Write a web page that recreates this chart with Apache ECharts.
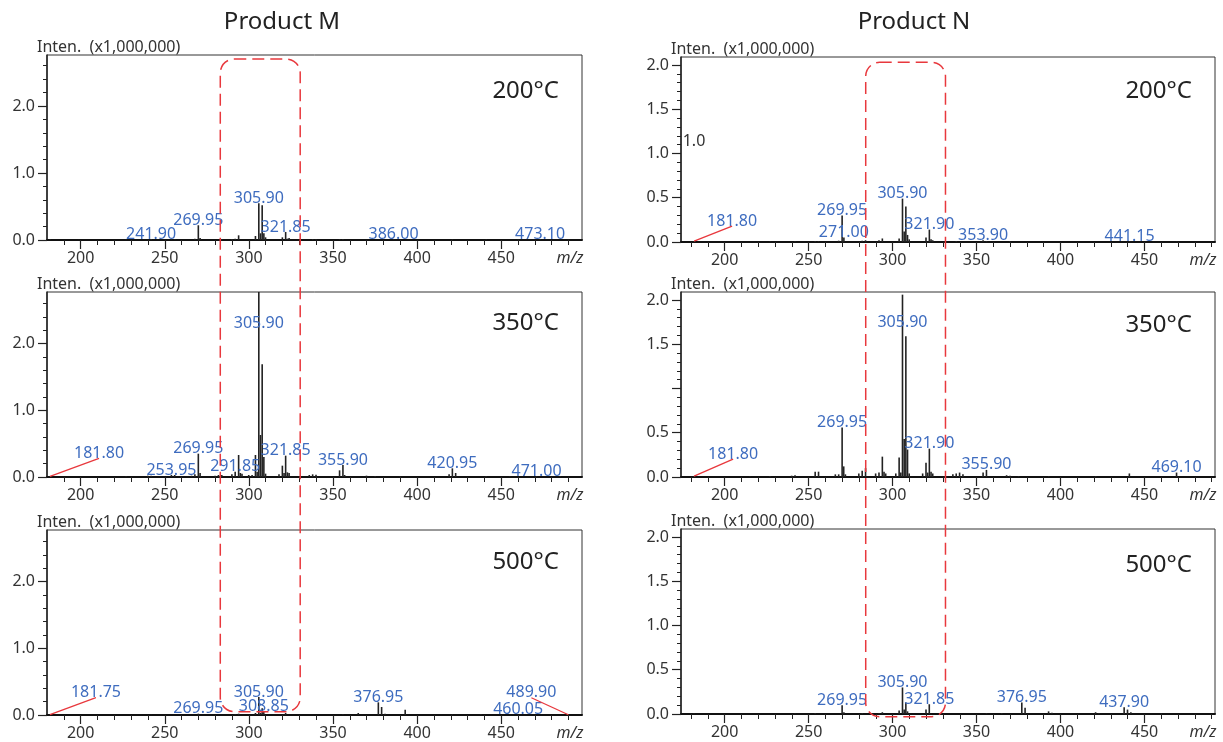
<!DOCTYPE html>
<html><head><meta charset="utf-8">
<script src="https://cdn.jsdelivr.net/npm/echarts@6/dist/echarts.min.js"></script>
<style>html,body{margin:0;padding:0;background:#fff}#c{width:1223px;height:742px}</style>
</head><body><div id="c"></div><script>
// ---------- tick values ----------
const mzMajorTicks = [200, 250, 300, 350, 400, 450];
const mzMinorTicksM = [190,200,210,220,230,240,250,260,270,280,290,300,310,320,330,340,350,360,370,380,390,400,410,420,430,440,450,460,470,480,490];
const mzMinorTicksN = [180,190,200,210,220,230,240,250,260,270,280,290,300,310,320,330,340,350,360,370,380,390,400,410,420,430,440,450,460,470,480,490];
const intenMajorM = [0, 1, 2];
const intenMinorM = [0.2,0.4,0.6,0.8,1.2,1.4,1.6,1.8,2.2,2.4,2.6];
const intenMajorN = [0, 0.5, 1, 1.5, 2];
const intenLabelsN350 = [0, 0.5, 1.5, 2];
const intenMinorN = [0.1,0.2,0.3,0.4,0.6,0.7,0.8,0.9,1.1,1.2,1.3,1.4,1.6,1.7,1.8,1.9,2.0];

// ---------- spectra: [m/z, intensity (x1,000,000)] ----------
const peaksM200 = [[181.8,0.01],[199,0.005],[227,0.006],[241.9,0.015],[253.95,0.01],[255.9,0.008],[267.9,0.02],[269.95,0.22],[271,0.03],[283.9,0.01],[289.9,0.015],[291.85,0.02],[293.9,0.07],[303.9,0.06],[305.9,0.55],[306.9,0.1],[307.9,0.52],[308.9,0.1],[309.9,0.04],[319.9,0.04],[321.85,0.12],[322.9,0.02],[323.9,0.03],[337.9,0.015],[339.9,0.01],[353.9,0.012],[355.9,0.015],[386,0.012],[420.95,0.01],[441.1,0.008],[460,0.006],[473.1,0.01],[489.9,0.006]];
const peaksM350 = [[181.8,0.01],[227,0.01],[239.9,0.02],[241.9,0.02],[253.95,0.03],[255.9,0.03],[265.9,0.02],[267.9,0.04],[269.95,0.35],[271,0.06],[279.9,0.02],[281.9,0.03],[283.9,0.03],[289.9,0.04],[291.85,0.08],[293.9,0.33],[294.9,0.06],[295.9,0.05],[299.9,0.03],[301.9,0.03],[303.9,0.33],[304.9,0.08],[305.9,2.78],[306.9,0.63],[307.9,1.69],[308.9,0.3],[309.9,0.05],[317.9,0.04],[319.9,0.17],[320.9,0.06],[321.85,0.32],[322.9,0.07],[323.9,0.06],[335.9,0.03],[337.9,0.04],[339.9,0.035],[353.9,0.1],[355.9,0.18],[356.9,0.03],[369.9,0.02],[375,0.015],[390,0.01],[419,0.04],[420.95,0.13],[422.9,0.06],[441,0.015],[455,0.01],[471,0.01],[485,0.01]];
const peaksM500 = [[181.75,0.005],[241.9,0.005],[269.95,0.02],[291.85,0.01],[293.9,0.02],[303.9,0.03],[305.9,0.27],[306.9,0.03],[307.9,0.1],[308.85,0.05],[321.85,0.03],[355.9,0.01],[365,0.03],[376.95,0.19],[378.9,0.12],[380.9,0.02],[392.9,0.08],[420.9,0.01],[437.9,0.01],[460.05,0.005],[489.9,0.004]];
const peaksN200 = [[181.8,0.01],[227,0.005],[241.9,0.008],[253.9,0.01],[255.9,0.01],[267.9,0.015],[269.95,0.3],[271,0.05],[281.9,0.015],[283.9,0.02],[291.9,0.02],[293.9,0.04],[303.9,0.04],[305.9,0.49],[306.9,0.12],[307.9,0.4],[308.9,0.08],[309.9,0.03],[319.9,0.05],[321.9,0.14],[322.9,0.03],[323.9,0.02],[337.9,0.01],[353.9,0.02],[355.9,0.01],[369.9,0.008],[441.15,0.01],[469.1,0.006]];
const peaksN350 = [[181.8,0.01],[215,0.005],[227,0.01],[239.9,0.015],[241.9,0.02],[253.9,0.06],[255.9,0.06],[265.9,0.03],[267.9,0.03],[269.95,0.56],[270.9,0.12],[271.9,0.03],[279.9,0.04],[281.9,0.07],[283.9,0.1],[289.9,0.04],[291.9,0.05],[293.9,0.23],[294.9,0.06],[295.9,0.04],[301.9,0.04],[303.9,0.22],[304.9,0.05],[305.9,2.06],[306.9,0.43],[307.9,1.59],[308.9,0.31],[309.9,0.04],[317.9,0.04],[319.9,0.16],[320.9,0.05],[321.9,0.32],[322.9,0.06],[323.9,0.04],[335.9,0.03],[337.9,0.04],[339.9,0.05],[341.9,0.03],[353.9,0.05],[355.9,0.08],[367.9,0.02],[369.9,0.015],[375,0.01],[393,0.01],[421,0.01],[441,0.04],[469.1,0.05]];
const peaksN500 = [[181.8,0.005],[241.9,0.005],[253.9,0.01],[269.95,0.1],[271,0.02],[281.9,0.01],[291.9,0.01],[293.9,0.02],[303.9,0.04],[305.9,0.3],[306.9,0.05],[307.9,0.13],[308.9,0.03],[319.9,0.05],[321.85,0.11],[355.9,0.01],[365,0.01],[376.95,0.13],[378.9,0.07],[392.9,0.03],[394.9,0.015],[420.9,0.02],[422.9,0.01],[437.9,0.075],[439.9,0.05],[441.9,0.02],[460,0.006]];

// ---------- labelled peaks ----------
const labelsM200 = [241.90, 269.95, 305.90, 321.85, 386.00, 473.10];
const labelsM350 = [181.80, 253.95, 269.95, 291.85, 305.90, 321.85, 355.90, 420.95, 471.00];
const labelsM500 = [181.75, 269.95, 305.90, 308.85, 376.95, 460.05, 489.90];
const labelsN200 = [181.80, 269.95, 271.00, 305.90, 321.90, 353.90, 441.15];
const labelsN350 = [181.80, 269.95, 305.90, 321.90, 355.90, 469.10];
const labelsN500 = [269.95, 305.90, 321.85, 376.95, 437.90];

const titles = ['Product M', 'Product N'];
const temps = ['200°C', '350°C', '500°C'];

// ---------- layout / styling (not data) ----------
const labelPlace = {
  'M350-181.80': {dx: 49, dy: -18, leader: true},
  'M500-181.75': {dx: 46, dy: -17, leader: true},
  'M500-489.90': {dx: -37, dy: -17, leader: true},
  'N200-181.80': {dx: 38, dy: -15, leader: true},
  'N350-181.80': {dx: 39, dy: -17, leader: true},
  'M350-305.90': {dy: 36},
  'N350-305.90': {dy: 33}
};
const cols = [
  {left: 47, width: 535, xmin: 180, xmax: 498, tops: [55, 292, 530], ymax: [2.76, 2.775, 2.775], minorX: mzMinorTicksM},
  {left: 681, width: 534, xmin: 174, xmax: 492, tops: [57, 292, 529], ymax: [2.09, 2.09, 2.09], minorX: mzMinorTicksN}
];
const H = 185;
const tempDy = [36, 31, 32, 34, 33, 36];
const panels = [
  {key: 'M200', peaks: peaksM200, labels: labelsM200},
  {key: 'M350', peaks: peaksM350, labels: labelsM350},
  {key: 'M500', peaks: peaksM500, labels: labelsM500},
  {key: 'N200', peaks: peaksN200, labels: labelsN200},
  {key: 'N350', peaks: peaksN350, labels: labelsN350},
  {key: 'N500', peaks: peaksN500, labels: labelsN500}
];

const FONT = '"Noto Sans", "Open Sans", sans-serif';
const TXT = '#333';
const BLUE = '#3e6cbf';
const RED = '#e8383d';

const grid = [], xAxis = [], yAxis = [], series = [], graphic = [];

panels.forEach((p, i) => {
  const c = cols[Math.floor(i / 3)];
  const row = i % 3;
  const top = c.tops[row];
  const isM = i < 3;
  grid.push({left: c.left, top: top, width: c.width, height: H, show: true, borderColor: '#333', borderWidth: 1, backgroundColor: 'transparent'});
  xAxis.push({
    gridIndex: i, type: 'value', min: c.xmin, max: c.xmax, position: 'bottom',
    axisLine: {show: true, onZero: false, lineStyle: {color: '#111', width: 2}},
    axisTick: {show: true, customValues: mzMajorTicks, length: 9, lineStyle: {color: '#222', width: 1.2}},
    axisLabel: {show: true, customValues: mzMajorTicks, margin: 10, fontSize: 16, fontFamily: FONT, color: TXT},
    splitLine: {show: false}
  });
  xAxis.push({
    gridIndex: i, type: 'value', min: c.xmin, max: c.xmax, position: 'bottom', offset: 0,
    axisLine: {show: false, onZero: false},
    axisTick: {show: true, customValues: c.minorX, length: 5, lineStyle: {color: '#222', width: 1}},
    axisLabel: {show: false}, splitLine: {show: false}
  });
  const ymax = c.ymax[row];
  const majors = isM ? intenMajorM : intenMajorN;
  const labs = p.key === 'N350' ? intenLabelsN350 : majors;
  yAxis.push({
    gridIndex: i, type: 'value', min: 0, max: ymax, position: 'left',
    axisLine: {show: true, onZero: false, lineStyle: {color: '#222', width: 1.5}},
    axisTick: {show: true, customValues: majors, length: 9, lineStyle: {color: '#222', width: 1.2}},
    axisLabel: {show: true, customValues: labs, margin: 12, fontSize: 16, fontFamily: FONT, color: TXT, formatter: v => Number(v).toFixed(1)},
    splitLine: {show: false}
  });
  yAxis.push({
    gridIndex: i, type: 'value', min: 0, max: ymax, position: 'left', offset: 0,
    axisLine: {show: false, onZero: false},
    axisTick: {show: true, customValues: isM ? intenMinorM : intenMinorN, length: 4, lineStyle: {color: '#222', width: 1}},
    axisLabel: {show: false}, splitLine: {show: false}
  });
  series.push({
    type: 'custom', xAxisIndex: 2 * i, yAxisIndex: 2 * i, clip: true, z: 3,
    data: p.peaks,
    renderItem: (params, api) => {
      const x = api.value(0), y = api.value(1);
      const p0 = api.coord([x, 0]), p1 = api.coord([x, y]);
      return {type: 'line', shape: {x1: p0[0], y1: p0[1], x2: p1[0], y2: p1[1]}, style: {stroke: '#222', lineWidth: 1.6}};
    }
  });
  const items = p.labels.map(mz => {
    const pk = p.peaks.find(q => Math.abs(q[0] - mz) < 0.03);
    return [mz, pk ? pk[1] : 0];
  });
  const metas = p.labels.map(mz => labelPlace[p.key + '-' + mz.toFixed(2)] || {});
  series.push({
    type: 'custom', xAxisIndex: 2 * i, yAxisIndex: 2 * i, clip: false, z: 10,
    data: items,
    renderItem: (params, api) => {
      const m = metas[params.dataIndex];
      const mz = api.value(0), v = api.value(1);
      const pt = api.coord([mz, v]);
      const ay = Math.max(pt[1], params.coordSys.y);
      const ax = pt[0];
      const tx = ax + (m.dx || 0), ty = ay + (m.dy || 0);
      const ch = [];
      if (m.leader) ch.push({type: 'line', shape: {x1: ax, y1: ay, x2: tx, y2: ty}, style: {stroke: RED, lineWidth: 1.3}});
      ch.push({type: 'text', x: tx, y: ty + 3, style: {text: mz.toFixed(2), font: '16px ' + FONT, fill: BLUE, align: 'center', verticalAlign: 'bottom', textAlign: 'center', textVerticalAlign: 'bottom'}});
      return {type: 'group', children: ch};
    }
  });
  graphic.push({type: 'text', x: c.left - 10, y: top - 7.5, silent: true,
    style: {text: 'Inten.  (x1,000,000)', font: '16px ' + FONT, fill: TXT, align: 'left', verticalAlign: 'middle', textAlign: 'left', textVerticalAlign: 'middle'}});
  graphic.push({type: 'text', x: c.left + c.width - 23, y: top + tempDy[i], silent: true,
    style: {text: temps[row], font: '24px ' + FONT, fill: '#222', align: 'right', verticalAlign: 'middle', textAlign: 'right', textVerticalAlign: 'middle'}});
  graphic.push({type: 'text', x: c.left + c.width - 12, y: top + H + 18, silent: true,
    style: {text: 'm/z', font: 'italic 16px ' + FONT, fill: TXT, align: 'center', verticalAlign: 'middle', textAlign: 'center', textVerticalAlign: 'middle'}});
});

graphic.push({type: 'text', x: 282, y: 22, silent: true, style: {text: titles[0], font: '24px ' + FONT, fill: '#222', align: 'center', verticalAlign: 'middle', textAlign: 'center', textVerticalAlign: 'middle'}});
graphic.push({type: 'text', x: 914, y: 22, silent: true, style: {text: titles[1], font: '24px ' + FONT, fill: '#222', align: 'center', verticalAlign: 'middle', textAlign: 'center', textVerticalAlign: 'middle'}});
graphic.push({type: 'text', x: 694, y: 141, silent: true, style: {text: '1.0', font: '16px ' + FONT, fill: TXT, align: 'center', verticalAlign: 'middle', textAlign: 'center', textVerticalAlign: 'middle'}});

const chart = echarts.init(document.getElementById('c'), null, {renderer: 'canvas'});
chart.setOption({animation: false, backgroundColor: '#fff', grid, xAxis, yAxis, series, graphic});

const boxes = [
  {topPanel: 0, botPanel: 2, mz: [283, 330.5], topVal: 2.70, botVal: 0.05},
  {topPanel: 3, botPanel: 5, mz: [284, 331.5], topVal: 2.03, botVal: -0.03}
];
boxes.forEach(b => {
  const x1 = chart.convertToPixel({xAxisIndex: 2 * b.topPanel}, b.mz[0]);
  const x2 = chart.convertToPixel({xAxisIndex: 2 * b.topPanel}, b.mz[1]);
  const y1 = chart.convertToPixel({yAxisIndex: 2 * b.topPanel}, b.topVal);
  const y2 = chart.convertToPixel({yAxisIndex: 2 * b.botPanel}, b.botVal);
  graphic.push({type: 'rect', silent: true, z: 100,
    shape: {x: x1, y: y1, width: x2 - x1, height: y2 - y1, r: 14},
    style: {fill: 'none', stroke: RED, lineWidth: 1.5, lineDash: [12, 6]}});
});
chart.setOption({graphic});
</script></body></html>
